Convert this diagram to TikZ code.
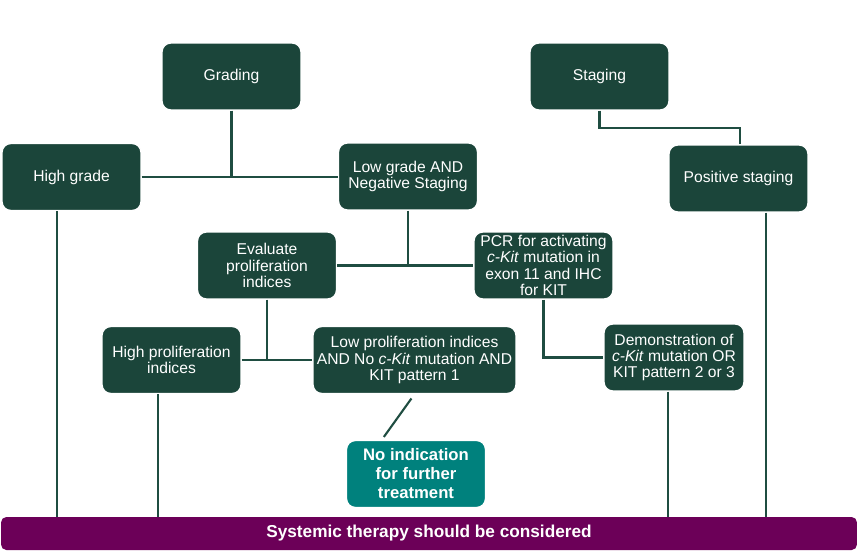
\documentclass[tikz,border=0pt]{standalone}
\usepackage{fontspec}
\setmainfont{Liberation Sans}
\usetikzlibrary{positioning}
\definecolor{box_green}{HTML}{1B453A}
\definecolor{line_green}{HTML}{1F4D41}
\definecolor{note_teal}{HTML}{00817D}
\definecolor{bar_purple}{HTML}{6C0058}
\tikzset{
    block/.style={rectangle, draw=white, thick, fill=box_green, text=white, rounded corners=5pt, align=center, minimum width=2.78cm, minimum height=1.34cm, inner sep=0pt, font=\fontsize{8.9}{9.3}\selectfont},
    final/.style={block, fill=note_teal, font=\bfseries\fontsize{9.5}{10.8}\selectfont},
    bar/.style={rectangle, fill=bar_purple, text=white, rounded corners=3pt, minimum width=17.12cm, minimum height=0.66cm, font=\bfseries\fontsize{9.8}{11}\selectfont},
    link/.style={draw=line_green, line width=1.2pt}
}

\begin{document}
\begin{tikzpicture}[x=0.02cm, y=-0.02cm]
        \useasboundingbox (0,0) rectangle (860,555);

        \node (Grading) [block] at (231.5, 76.5) {Grading};
        \node (Staging) [block] at (599.5, 76.5) {Staging};
        \node (High_grade) [block] at (71.5, 177) {High grade};
        \node (Low_grade) [block] at (408, 176.5) {Low grade AND\\Negative Staging};
        \node (Pos_staging) [block] at (738.5, 178.5) {Positive staging};
        \node (Eval_prolif) [block] at (267, 265.5) {Evaluate\\proliferation\\indices};
        \node (PCR) [block] at (543.5, 265.5) {PCR for activating\\\textit{c-Kit} mutation in\\exon 11 and IHC\\for KIT};
        \node (High_prolif) [block] at (171.5, 360) {High proliferation\\indices};
        \node (Low_prolif) [block, minimum width=4.06cm] at (414.5, 360) {Low proliferation indices\\AND No \textit{c-Kit} mutation AND\\KIT pattern 1};
        \node (Demo) [block, minimum width=2.8cm] at (674, 357.5) {Demonstration of\\\textit{c-Kit} mutation OR\\KIT pattern 2 or 3};
        \node (No_ind) [final] at (416, 474) {No indication\\for further\\treatment};
        \node (Systemic) [bar] at (429, 533.5) {Systemic therapy should be considered};

        % Grading
        \draw[link] (Grading) -- (Grading.south |- High_grade.east);
        \draw[link] (High_grade.east) -- (High_grade.east -| Low_grade.west);

        % Staging
        \draw[link] (Staging.south) -- ++(0, 17) -| ([xshift=0.03cm]Pos_staging.north);

        % Low grade branch
        \draw[link] (Low_grade.south) -- (Low_grade.south |- Eval_prolif.east);
        \draw[link] (Eval_prolif.east) -- (PCR.west);

        % Proliferation
        \draw[link] (Eval_prolif.south) -- (Eval_prolif.south |- High_prolif.east);
        \draw[link] (High_prolif.east) -- (Low_prolif.west);
        \draw[link, shorten <=3pt, shorten >=2pt] (Low_prolif.south) -- (No_ind.135);

        % PCR result
        \draw[link] (PCR.south) |- (Demo.west);

        % Down to systemic therapy
        \coordinate (HG_foot) at ([xshift=-0.29cm]High_grade.south);
        \coordinate (HP_foot) at ([xshift=-0.27cm]High_prolif.south);
        \coordinate (DM_foot) at ([xshift=-0.12cm]Demo.south);
        \coordinate (PS_foot) at ([xshift=0.55cm]Pos_staging.south);
        \draw[link] (HG_foot) -- (HG_foot |- Systemic.north);
        \draw[link] (HP_foot) -- (HP_foot |- Systemic.north);
        \draw[link] (DM_foot) -- (DM_foot |- Systemic.north);
        \draw[link] (PS_foot) -- (PS_foot |- Systemic.north);

    \end{tikzpicture}
\end{document}
